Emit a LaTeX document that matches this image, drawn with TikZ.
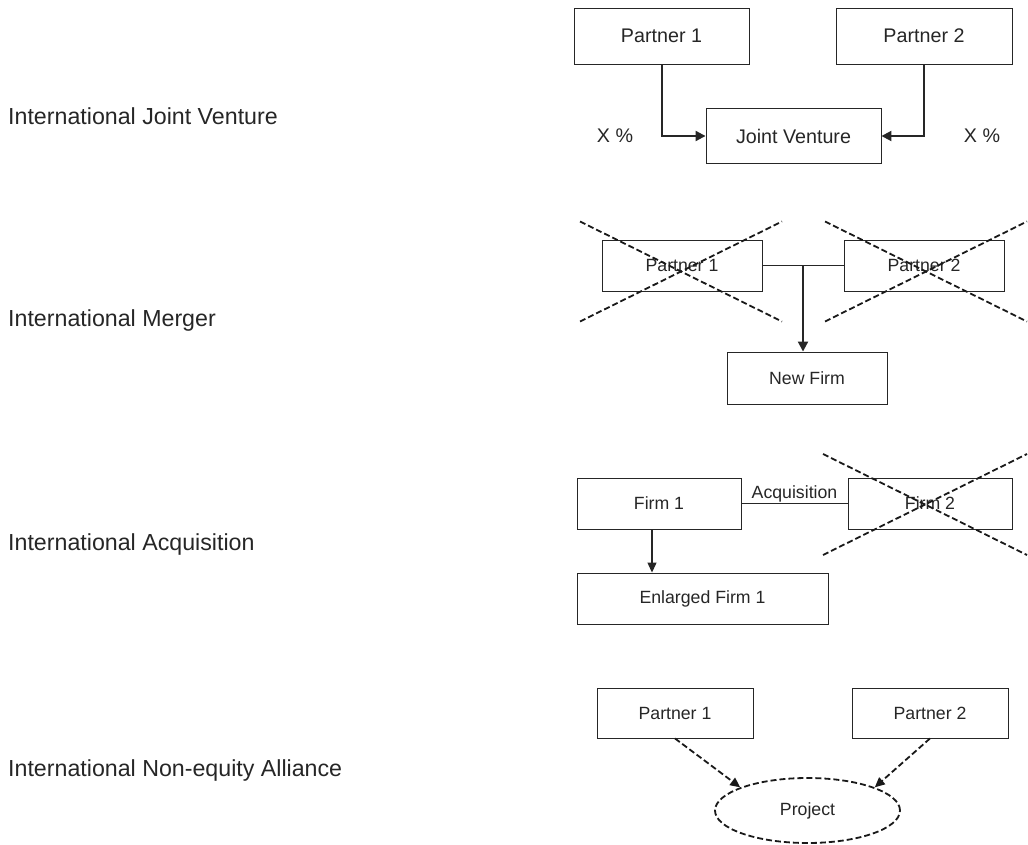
\documentclass[tikz,border=0pt]{standalone}
\usepackage{fontspec}
\setmainfont{Liberation Sans}
\usetikzlibrary{arrows.meta,calc,shapes.geometric}
\begin{document}
\begin{tikzpicture}[x=1pt,y=-1pt,
  ink/.style={draw=black!85},
  firmbox/.style={ink,line width=0.9pt,rectangle,inner sep=0pt,text=black!85},
  biglabel/.style={anchor=west,inner sep=0pt,text=black!85,font=\fontsize{23.2}{25}\selectfont},
  bigtext/.style={font=\fontsize{19.7}{22}\selectfont},
  smalltext/.style={font=\fontsize{17.7}{20}\selectfont},
  heavy/.style={ink,line width=2pt,-{Triangle[length=10pt,width=10pt]}},
  thin/.style={ink,line width=0.9pt},
  cross/.style={draw=black!90,line width=1.8pt,dash pattern=on 6pt off 3pt},
  dasharrow/.style={draw=black!90,line width=1.8pt,dash pattern=on 6pt off 3pt,-{Triangle[length=10pt,width=9pt]}},
]
\useasboundingbox (0,0) rectangle (1028,845);

% Row labels
\node[biglabel] (l1) at (8,116) {International Joint Venture};
\node[biglabel] (l2) at (8,321) {International Merger};
\node[biglabel] (l3) at (8,544) {International Acquisition};
\node[biglabel] (l4) at (8,770) {International Non-equity Alliance};

% Joint venture
\node[firmbox,bigtext,minimum width=175pt,minimum height=56pt] (jp1) at (661.5,36) {Partner 1};
\node[firmbox,bigtext,minimum width=176pt,minimum height=56pt] (jp2) at (924,36) {Partner 2};
\node[firmbox,bigtext,minimum width=175pt,minimum height=55pt] (jv) at (793.5,136) {Joint Venture};
\draw[heavy] (jp1.south) |- (jv.west);
\draw[heavy] (jp2.south) |- (jv.east);
\node[bigtext,text=black!85] (xl) at (615,136) {X \%};
\node[bigtext,text=black!85] (xr) at (982,136) {X \%};

% Merger
\node[firmbox,smalltext,minimum width=160pt,minimum height=51pt] (mp1) at (682,265.5) {Partner 1};
\node[firmbox,smalltext,minimum width=160pt,minimum height=51pt] (mp2) at (924,265.5) {Partner 2};
\node[firmbox,smalltext,minimum width=160pt,minimum height=52pt] (nf) at (807,378) {New Firm};
\draw[thin] (mp1.east) -- (mp2.west);
\coordinate (mj) at ($(mp1.east)!0.5!(mp2.west)$);
\draw[heavy] (mj) -- (mj |- nf.north);
\draw[cross] ($(mp1)+(-102,-44)$) -- ($(mp1)+(100,56)$);
\draw[cross] ($(mp1)+(-102,56)$) -- ($(mp1)+(100,-44)$);
\draw[cross] ($(mp2)+(-99,-44)$) -- ($(mp2)+(103,56)$);
\draw[cross] ($(mp2)+(-99,56)$) -- ($(mp2)+(103,-44)$);

% Acquisition
\node[firmbox,smalltext,minimum width=164pt,minimum height=51pt] (af1) at (659,503.5) {Firm 1};
\node[firmbox,smalltext,minimum width=164pt,minimum height=51pt] (af2) at (930,503.5) {Firm 2};
\node[firmbox,smalltext,minimum width=251pt,minimum height=51pt] (ef) at (702.5,598.5) {Enlarged Firm 1};
\draw[thin] (af1.east) -- node[above,smalltext,inner sep=1pt,text=black!85] (acq) {Acquisition} (af2.west);
\coordinate (ast) at ($(af1.south)+(-7,0)$);
\draw[ink,line width=1.2pt,-{Triangle[length=10pt,width=9pt]}] (ast) -- (ast |- ef.north);
\draw[cross] ($(af2)+(-107,-49.5)$) -- ($(af2)+(97,51.5)$);
\draw[cross] ($(af2)+(-107,51.5)$) -- ($(af2)+(97,-49.5)$);

% Non-equity alliance
\node[firmbox,smalltext,minimum width=156pt,minimum height=50pt] (np1) at (675,713) {Partner 1};
\node[firmbox,smalltext,minimum width=156pt,minimum height=50pt] (np2) at (930,713) {Partner 2};
\node[ellipse,cross,arrows=-,smalltext,text=black!85,minimum width=185pt,minimum height=65pt,inner sep=0pt] (pr) at (807.5,810.5) {Project};
\draw[dasharrow] (np1.south) -- (pr.161);
\draw[dasharrow] (np2.south) -- (pr.19);
\end{tikzpicture}
\end{document}
